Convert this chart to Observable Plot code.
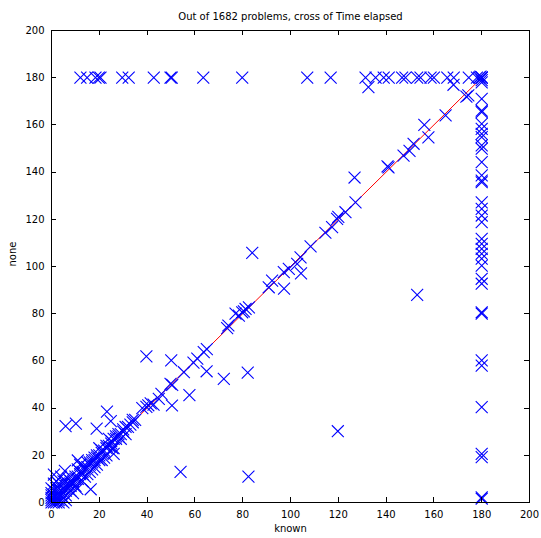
<!DOCTYPE html>
<html>
<head>
<meta charset="utf-8">
<script src="https://cdn.jsdelivr.net/npm/d3@7"></script>
<script src="https://cdn.jsdelivr.net/npm/@observablehq/plot@0.6"></script>
<style>
  html, body { margin: 0; padding: 0; background: white; }
</style>
</head>
<body>
<div id="chart"></div>
<script>
const titleText = "Out of 1682 problems, cross of Time elapsed";
const xLabel = "known";
const yLabel = "none";
const xTicks = [0, 20, 40, 60, 80, 100, 120, 140, 160, 180, 200];
const yTicks = [0, 20, 40, 60, 80, 100, 120, 140, 160, 180, 200];

// reference line (known == none), drawn up to the 180 s limit
const refKnown = [0, 180];
const refNone = [0, 180];

// problems where "none" hit the 180 s limit: [known, none]
const topRow = [
  [12.1,180],[14.9,180],[18.4,180],[19.8,180],[20.5,180],[29.6,180],[32.3,180],
  [42.8,180],[49.8,180],[50.3,180],[63.5,180],[79.8,180],[107,180],[116.8,180],
  [131.4,180],[135.6,180],[139,180],[141.1,180],[146.7,180],[148.1,180],[153,180],
  [154.4,180],[158.6,180],[160,180],[165.6,180],[168.3,180],[174.6,180],[178,180],
  [179,180],[180,180],[180,180],[180,180],[180,179],[179.5,180.5]
];

// problems where "known" hit the 180 s limit: [known, none]
const rightCol = [
  [180,171],[180,166],[180,165.4],[180,160.4],[180,158.3],[180,156.2],[180,154.8],
  [180,151.3],[180,149.9],[180,144.2],[180,138.6],[180,136.4],[180,135.7],[180,127.2],
  [180,124.4],[180,121.6],[180,118.8],[180,111.7],[180,109.6],[180,107.5],[180,105.4],
  [180,103.3],[180,100.4],[180,94.8],[180,92.7],[180,80.6],[180,80],[180,60.2],
  [180,58],[180,40.4],[180,20.6],[180,19.2],[180,2.2],[180,1.6],[180,178]
];

// problems close to the diagonal: [known, none]
const nearDiag = [
  [0,0],[0,1],[1,0],[1,1],[0,2],[2,0],[1,2],[2,1],[2,2],[0,3],[3,1],[2,3],[3,3],
  [3,4],[4,3],[4,4],[1,5],[5,2],[4,5],[5,5],[5,6],[6,5],[6,6],[6,7],[7,6],[7,7],
  [7,8],[8,7],[8,8],[8,9],[9,8],[9,9],[9,10],[10,10],[10,11],[11,10],[11,11],
  [12,12],[12,13],[13,12],[13,13],[14,14],[14,15],[15,15],[16,16],[16,17],[17,17],
  [17,18],[18,18],[18,19],[19,19],[19,20],[20,20],[21,21],[21,22],[22,22],[23,23],
  [23,24],[24,24],[25,25],[25,26],[26,27],[27,27],[27,28],[28,28],[28,29],[29,29],
  [30,30],[30,31],[31,32],[32,32],[33,33],[34,34],[34,35],[35,35],[3,0],[0,4],[5,0],
  [4,1],[1,3],[2,6],[6,3],[3,8],[8,5],[7,10],[10,7],[11,14],[13,9],[15,12],[12,16],
  [17,14],[19,16],[20,23],[22,19],[24,27],[26,23],[29,27],[31,29],[2,9],[9,4],[4,11],
  [0,6],[6,1],[1,8],[3,6],[5,9],[14,11],[16,13],[18,15],[21,18],[23,20],[15,17],[20,18],
  [38,40],[39.7,40.5],[40.5,41.2],[41.5,42],[42.7,41.5],[44.9,43.9],[46,46],
  [49.8,50.3],[50.5,49.8],[55.4,55.2],[59.4,59.3],[61,61],[63.7,63.7],[65,65],
  [73.5,73.9],[74,75],[77,80],[78.4,79.2],[79.8,80.6],[81.2,82],[82.6,82.7],[80.5,81],
  [90.9,91.2],[92.3,94],[97.2,97.6],[99.3,99],[102.8,101.1],[104.2,103.9],[108.4,108.5],
  [114.6,114.3],[117.4,116.7],[119.5,120.2],[120,121],[123,123],[127.2,127.2],
  [140.6,142.4],[141,142],[147.3,147],[149.8,149],[151.5,152],[156,160],[157.7,154.7],
  [164.9,164],[173.6,172]
];

// scattered problems away from the diagonal: [known, none]
const offDiag = [
  [5.9,32.4],[10.2,33.4],[23.2,38.5],[24.8,34.5],[18.9,31.3],[39.7,61.9],[50.1,60.2],
  [50.4,41.1],[57.7,45.5],[54,13],[64.9,55.6],[72.1,52.4],[82.1,55],[82.4,11],
  [84,105.8],[97.3,90.6],[104.4,97.1],[119.8,30.2],[153,88],[126.8,137.7],[11,17.8],
  [16.4,5.6],[10.8,5.8],[5.6,13.4],[1,11.8],[26,20.6],[25.5,23],[132.6,176],
  [168.2,177],[174.4,172.5]
];

const points = [...nearDiag, ...offDiag, ...topRow, ...rightCol].map(([k, n]) => ({known: k, none: n}));
const refLine = refKnown.map((k, i) => ({known: k, none: refNone[i]}));

const tickStyle = {stroke: "black", strokeWidth: 1, shapeRendering: "crispEdges"};

const chart = Plot.plot({
  width: 541,
  height: 538,
  marginLeft: 51,
  marginRight: 12,
  marginTop: 30,
  marginBottom: 36,
  style: {fontFamily: "'DejaVu Sans', sans-serif", fontSize: "10px", background: "white", color: "black"},
  x: {domain: [0, 200]},
  y: {domain: [0, 200]},
  marks: [
    Plot.line(refLine, {x: "known", y: "none", stroke: "#ff0000", strokeWidth: 1}),
    Plot.dot(points, {x: "known", y: "none", symbol: "times", r: 5.5, stroke: "#0000ff", strokeWidth: 1.1}),
    Plot.frame({stroke: "black", strokeWidth: 1, shapeRendering: "crispEdges"}),
    // inward ticks on all four sides
    Plot.tickX(xTicks, {x: d => d, insetTop: 467, ...tickStyle}),
    Plot.tickX(xTicks, {x: d => d, insetBottom: 467, ...tickStyle}),
    Plot.tickY(yTicks, {y: d => d, insetRight: 473, ...tickStyle}),
    Plot.tickY(yTicks, {y: d => d, insetLeft: 473, ...tickStyle}),
    Plot.axisX(xTicks, {anchor: "bottom", tickSize: 0, tickPadding: 8, label: null}),
    Plot.axisY(yTicks, {anchor: "left", tickSize: 0, tickPadding: 7, label: null}),
    Plot.text([titleText], {frameAnchor: "top", dy: -18}),
    Plot.text([xLabel], {frameAnchor: "bottom", dy: 29}),
    Plot.text([yLabel], {frameAnchor: "left", dx: -39, rotate: -90})
  ]
});
document.getElementById("chart").appendChild(chart);
</script>
</body>
</html>
